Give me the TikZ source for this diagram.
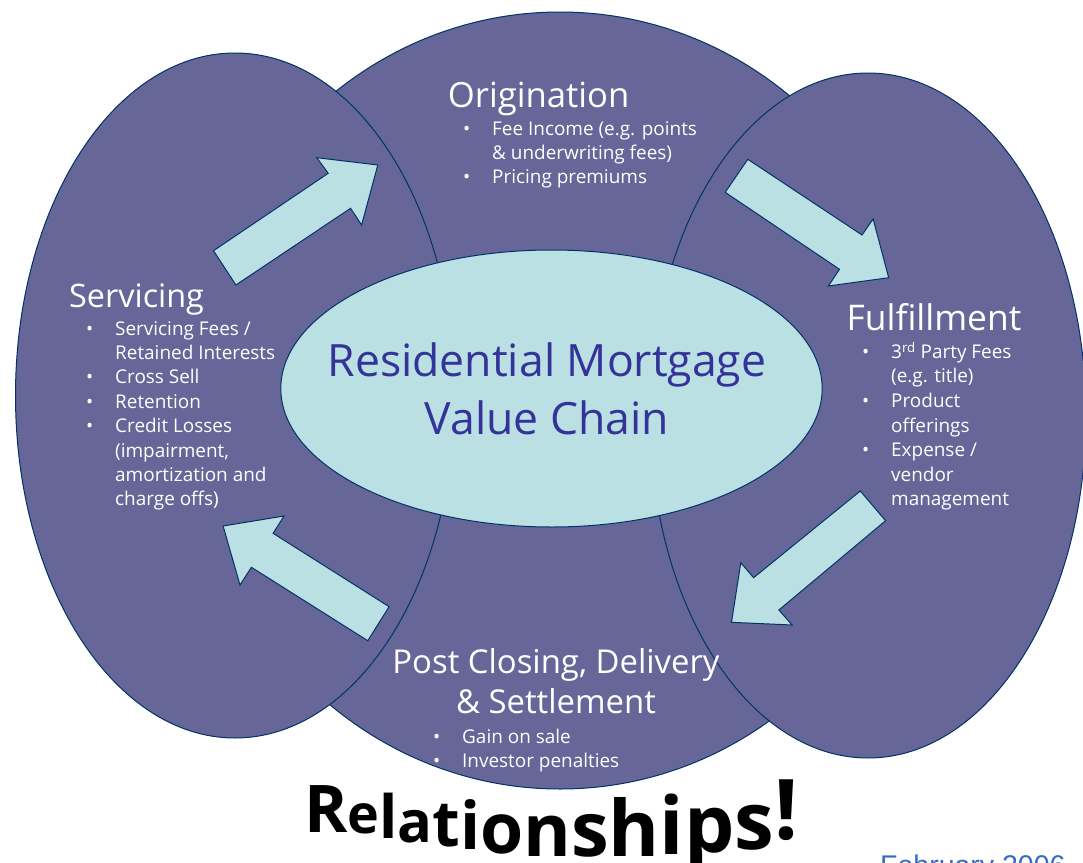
\documentclass[tikz,border=0pt]{standalone}
\usepackage{fontspec}
\usepackage{graphicx}
\setmainfont{Open Sans}
\newfontfamily\datefont{Liberation Sans}

\definecolor{lobefill}{HTML}{666699}
\definecolor{lobeline}{HTML}{003366}
\definecolor{hubfill}{HTML}{BBE0E3}
\definecolor{hubtext}{HTML}{333399}
\definecolor{datecol}{HTML}{3A6BC0}

% bullet and hanging indent for the item lists
\newcommand\bul{\makebox[29bp][l]{\textbullet}}
\newcommand\ind{\hspace*{29bp}}
% one letter of the warped slogan: size, drop below baseline, glyph
\newcommand\wl[3]{\raisebox{-#2bp}{\fontsize{#1}{#1}\selectfont #3}}

\begin{document}
\begin{tikzpicture}[x=1bp,y=-1bp,
  lobe/.style={fill=lobefill,draw=lobeline,line width=1bp},
  hub/.style={fill=hubfill,draw=lobeline,line width=1bp},
  flow/.style={fill=hubfill,draw=lobeline,line width=1bp,line join=miter},
  heading/.style={text=white,inner sep=0,anchor=base west,font=\fontsize{34}{40}\selectfont},
  items/.style={text=white,inner sep=0,anchor=base west,font=\fontsize{19}{24.5}\selectfont},
  ]
\path[use as bounding box] (0,0) rectangle (1083,863);
\clip (0,0) rectangle (1083,863);
\fill[white] (0,0) rectangle (1083,863);

% stage lobes
\draw[lobe] (560,400.5) ellipse [x radius=370,y radius=388.5];
\draw[lobe] (235,395.5) ellipse [x radius=219.5,y radius=342.5];
\draw[lobe] (868,415.5) ellipse [x radius=218,y radius=342.5];
% hub
\draw[hub] (551.5,388.5) ellipse [x radius=270.7,y radius=138.5];

% block arrows of the cycle
\draw[flow] (213.5,250.7) -- (328.2,173.3) -- (316.8,157.7) -- (377.8,165)
  -- (361.6,225) -- (350.6,208.3) -- (235.9,285) -- cycle;
\draw[flow] (747.8,159.3) -- (862,235) -- (873.1,219) -- (888.7,277.7)
  -- (828.4,286) -- (839.5,269.3) -- (725.2,192.3) -- cycle;
\draw[flow] (860.3,491) -- (885.6,520.7) -- (778.9,610) -- (792.1,625)
  -- (731.5,622.3) -- (740.8,562.7) -- (753.6,577.7) -- cycle;
\draw[flow] (389.1,606.7) -- (367.8,640.7) -- (251.4,567.3) -- (240,585)
  -- (223.1,526) -- (284.1,516) -- (273.1,533.3) -- cycle;

% hub text
\node[inner sep=0,anchor=base,text=hubtext,font=\fontsize{44.7}{58.3}\selectfont] (hubtxt) at (547,376.7)
  {\begin{tabular}[t]{@{}c@{}}Residential Mortgage\\ Value Chain\end{tabular}};

% Origination
\node[heading,font=\fontsize{34.8}{40}\selectfont] (orig) at (447.7,107) {Origination};
\node[items] (origlist) at (463,135)
  {\begin{tabular}[t]{@{}l@{}}\bul Fee Income (e.g. points\\ \ind \& underwriting fees)\\ \bul Pricing premiums\end{tabular}};

% Servicing
\node[heading,font=\fontsize{32.5}{40}\selectfont] (serv) at (69,307) {Servicing};
\node[items] (servlist) at (86,335)
  {\begin{tabular}[t]{@{}l@{}}\bul Servicing Fees /\\ \ind Retained Interests\\ \bul Cross Sell\\
   \bul Retention\\ \bul Credit Losses\\ \ind (impairment,\\ \ind amortization and\\ \ind charge offs)\end{tabular}};

% Fulfillment
\node[heading,font=\fontsize{35.5}{40}\selectfont] (fulf) at (846.4,330) {Fulfillment};
\node[items,font=\fontsize{19}{24.67}\selectfont] (fulflist) at (862,358.3)
  {\begin{tabular}[t]{@{}l@{}}\bul 3\textsuperscript{rd} Party Fees\\ \ind (e.g. title)\\ \bul Product\\
   \ind offerings\\ \bul Expense /\\ \ind vendor\\ \ind management\end{tabular}};

% Post Closing, Delivery & Settlement
\node[heading,anchor=base,font=\fontsize{33}{40.7}\selectfont] (post) at (556,673.3)
  {\begin{tabular}[t]{@{}c@{}}Post Closing, Delivery\\ \& Settlement\end{tabular}};
\node[items] (postlist) at (433,743.3)
  {\begin{tabular}[t]{@{}l@{}}\bul Gain on sale\\ \bul Investor penalties\end{tabular}};

% slogan
\node[inner sep=0,anchor=base west,font=\bfseries] (slogan) at (304,832)
  {\wl{66}{0}{R}\wl{54}{1}{e}\wl{60}{6}{l}\wl{58}{10}{a}\wl{64}{14}{t}\wl{66}{17}{i}%
   \wl{70}{21}{o}\wl{73}{24}{n}\wl{76}{24}{s}\wl{78}{24}{h}\wl{80}{22}{i}\wl{80}{20}{p}\wl{80}{17}{s}\wl{84}{7}{!}};

% date
\node[inner sep=0,anchor=base west,text=datecol,font=\datefont\fontsize{28.6}{30}\selectfont] (date) at (880,875.5) {February 2006};
\end{tikzpicture}
\end{document}
